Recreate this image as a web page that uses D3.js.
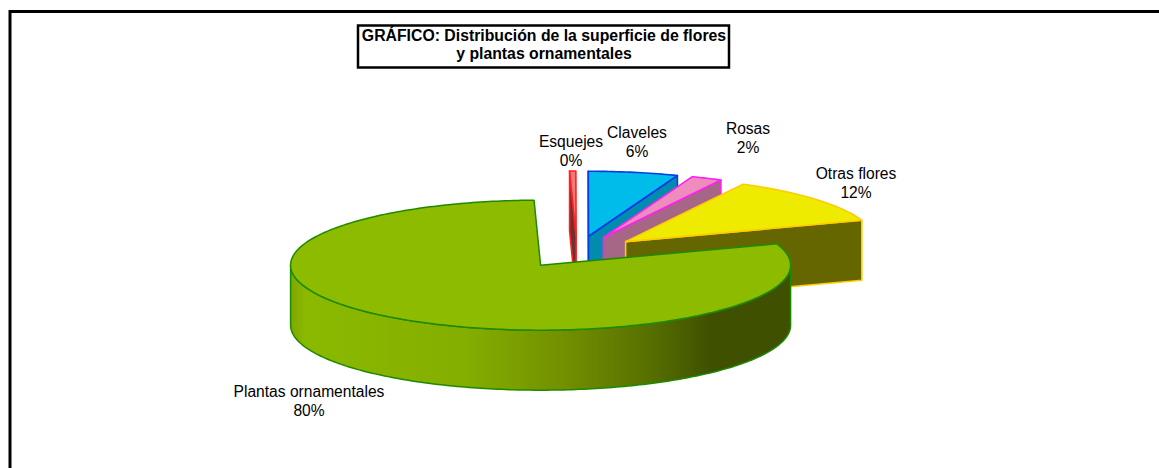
<!DOCTYPE html>
<html><head><meta charset="utf-8">
<script src="https://cdn.jsdelivr.net/npm/d3@7/dist/d3.min.js"></script>
<style>html,body{margin:0;padding:0;background:#fff}svg{display:block}text{font-family:"Liberation Sans",Arial,sans-serif;fill:#000}</style>
</head><body><svg id="c" width="1159" height="468"></svg>
<script>
const categories = ["Esquejes","Claveles","Rosas","Otras flores","Plantas ornamentales"];
const values = [0.4,5.8,2,11.9,79.9];
const percentLabels = ["0%","6%","2%","12%","80%"];
const titleLines = ["GRÁFICO: Distribución de la superficie de flores","y plantas ornamentales"];
const topColors = ["#F27A7A","#00BCEB","#EE8CBE","#EEEA00","#8CBB00"];
const wallColors = ["#6E3030","#008CAF","#A66685","#666600","#8CBB00"];
const strokeColors = ["#FF2020","#0A3CE6","#FF20F0","#FFCC00","#1E8A00"];

const W=1159,H=468, cx=577, cy=252, rx=250, ry=65, depth=60, explodeX=0.256, explodeY=0.246;
const svg=d3.select("#c");
svg.append("rect").attr("x",10).attr("y",11.5).attr("width",1400).attr("height",600).attr("fill","#fff").attr("stroke","#000").attr("stroke-width",3);

const defs=svg.append("defs");
const grad=defs.append("linearGradient").attr("id","wall").attr("gradientUnits","userSpaceOnUse").attr("x1",291).attr("x2",791).attr("y1",0).attr("y2",0);
[[0,"#7FA800"],[0.03,"#8BB900"],[0.35,"#84AE00"],[0.55,"#728F00"],[0.72,"#566F00"],[0.84,"#3F5000"],[1,"#3F5000"]].forEach(s=>grad.append("stop").attr("offset",s[0]).attr("stop-color",s[1]));

const startDeg=-1.5;
const pie=d3.pie().sort(null).value(d=>d).startAngle(startDeg*Math.PI/180).endAngle((360+startDeg)*Math.PI/180);
const arcs=pie(values);
const pt=(o,a)=>[o[0]+rx*Math.sin(a),o[1]-ry*Math.cos(a)];
const line=d3.line();

function rimPts(o,a0,a1){const n=Math.max(2,Math.ceil(Math.abs(a1-a0)*60));return d3.range(n+1).map(i=>pt(o,a0+(a1-a0)*i/n));}
arcs.forEach((d,i)=>{
  const m=(d.startAngle+d.endAngle)/2;
  const o=[cx+explodeX*rx*Math.sin(m),cy-explodeY*ry*Math.cos(m)];
  const g=svg.append("g");
  const stroke=strokeColors[i], sw=i===4?1.5:1.6;
  const fillWall=i===4?"url(#wall)":wallColors[i];
  const face=a=>{const p=pt(o,a);return line([o,p,[p[0],p[1]+depth],[o[0],o[1]+depth]])+"Z";};
  if(Math.sin(d.startAngle)<-0.001) g.append("path").attr("d",face(d.startAngle)).attr("fill",fillWall).attr("stroke",stroke).attr("stroke-width",sw).attr("stroke-linejoin","round");
  if(Math.sin(d.endAngle)>0.001) g.append("path").attr("d",face(d.endAngle)).attr("fill",fillWall).attr("stroke",stroke).attr("stroke-width",sw).attr("stroke-linejoin","round");
  const a0=Math.max(d.startAngle,Math.PI/2), a1=Math.min(d.endAngle,3*Math.PI/2);
  if(a1>a0){
    const t=rimPts(o,a0,a1), b=t.map(p=>[p[0],p[1]+depth]).reverse();
    g.append("path").attr("d",line(t.concat(b))+"Z").attr("fill",fillWall).attr("stroke",stroke).attr("stroke-width",sw).attr("stroke-linejoin","round");
  }
  g.append("path").attr("d",line([o].concat(rimPts(o,d.startAngle,d.endAngle)))+"Z").attr("fill",topColors[i]).attr("stroke",stroke).attr("stroke-width",sw).attr("stroke-linejoin","round");
});

const labelPos=[[571,147],[637,138],[748,134],[856,179],[309,397]];
categories.forEach((c,i)=>{
  const t=svg.append("text").attr("text-anchor","middle").attr("font-size",15.6);
  t.append("tspan").attr("x",labelPos[i][0]).attr("y",labelPos[i][1]).text(c);
  t.append("tspan").attr("x",labelPos[i][0]).attr("y",labelPos[i][1]+18.5).text(percentLabels[i]);
});

svg.append("rect").attr("x",358).attr("y",25.5).attr("width",371).attr("height",42).attr("fill","#fff").attr("stroke","#000").attr("stroke-width",2.5);
titleLines.forEach((s,i)=>svg.append("text").attr("x",544).attr("y",41+i*18).attr("text-anchor","middle").attr("font-size",15.8).attr("font-weight","bold").text(s));
</script></body></html>
